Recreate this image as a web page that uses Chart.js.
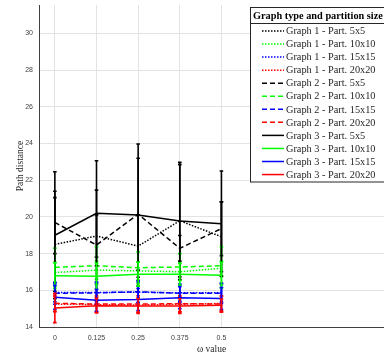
<!DOCTYPE html>
<html>
<head>
<meta charset="utf-8">
<script src="https://cdn.jsdelivr.net/npm/chart.js@4/dist/chart.umd.min.js"></script>
<style>
  html, body { margin: 0; padding: 0; background: #fff; }
  canvas { display: block; }
</style>
</head>
<body>
<canvas id="chart" width="384" height="354"></canvas>
<script>
const xValues = [0, 0.125, 0.25, 0.375, 0.5];
const xTickLabels = ["0", "0.125", "0.25", "0.375", "0.5"];
const yTicks = [14, 16, 18, 20, 22, 24, 26, 28, 30];

const graphNames = ["Graph 1", "Graph 2", "Graph 3"];
const partitions = ["5x5", "10x10", "15x15", "20x20"];

// mean path distance, one array per graph / partition
const g1p5 = [18.5, 18.96, 18.41, 19.79, 18.92];
const g1p10 = [16.97, 17.1, 17.06, 17.01, 17.2];
const g1p15 = [15.88, 15.88, 15.9, 15.86, 15.86];
const g1p20 = [15.25, 15.22, 15.2, 15.24, 15.28];
const g2p5 = [19.7, 18.47, 20.15, 18.29, 19.36];
const g2p10 = [17.25, 17.34, 17.23, 17.27, 17.34];
const g2p15 = [15.84, 15.86, 15.92, 15.84, 15.84];
const g2p20 = [15.29, 15.25, 15.25, 15.27, 15.25];
const g3p5 = [19.0, 20.2, 20.1, 19.78, 19.63];
const g3p10 = [16.8, 16.77, 16.88, 16.88, 16.82];
const g3p15 = [15.62, 15.46, 15.5, 15.6, 15.55];
const g3p20 = [15.04, 15.16, 15.14, 15.14, 15.18];

// error bar half-lengths
const g1p5Err = [2.55, 1.15, 1.7, 3.06, 1.9];
const g1p10Err = [0.55, 0.5, 0.5, 0.45, 0.4];
const g1p15Err = [0.5, 0.5, 0.55, 0.45, 0.5];
const g1p20Err = [0.4, 0.4, 0.4, 0.4, 0.4];
const g2p5Err = [1.7, 2.99, 3.05, 0.7, 1.47];
const g2p10Err = [1.05, 1.04, 0.87, 0.73, 1.04];
const g2p15Err = [0.6, 0.6, 0.6, 0.5, 0.55];
const g2p20Err = [0.45, 0.45, 0.45, 0.45, 0.45];
const g3p5Err = [3.46, 2.86, 3.87, 3.19, 2.87];
const g3p10Err = [0.7, 0.7, 0.65, 0.6, 0.7];
const g3p15Err = [0.65, 0.6, 0.6, 0.6, 0.6];
const g3p20Err = [0.8, 0.4, 0.4, 0.4, 0.35];

const means = [g1p5, g1p10, g1p15, g1p20, g2p5, g2p10, g2p15, g2p20, g3p5, g3p10, g3p15, g3p20];
const errs = [g1p5Err, g1p10Err, g1p15Err, g1p20Err, g2p5Err, g2p10Err, g2p15Err, g2p20Err, g3p5Err, g3p10Err, g3p15Err, g3p20Err];

const partColors = ["#000000", "#00ff00", "#0000ff", "#ff0000"];
const graphDash = [[1.5, 1.5], [5, 3], []];

const datasets = means.map((vals, i) => {
  const g = Math.floor(i / 4), p = i % 4;
  return {
    label: graphNames[g] + " - Part. " + partitions[p],
    data: xValues.map((x, k) => ({ x: x, y: vals[k] })),
    errors: errs[i],
    borderColor: partColors[p],
    borderDash: graphDash[g],
    borderWidth: 1.5,
    pointRadius: 0,
    fill: false,
    tension: 0,
    order: means.length - i
  };
});

const errorBars = {
  id: "errorBars",
  beforeDatasetDraw(chart, args) {
    const ds = chart.data.datasets[args.index];
    const ctx = chart.ctx;
    const xs = chart.scales.x, ys = chart.scales.y;
    ctx.save();
    ctx.strokeStyle = ds.borderColor;
    ctx.lineWidth = 1.6;
    ctx.setLineDash([]);
    ds.data.forEach((pt, k) => {
      const e = ds.errors[k];
      const px = xs.getPixelForValue(pt.x);
      const top = ys.getPixelForValue(pt.y + e);
      const bot = ys.getPixelForValue(pt.y - e);
      ctx.beginPath();
      ctx.moveTo(px, top); ctx.lineTo(px, bot);
      ctx.moveTo(px - 1.8, top); ctx.lineTo(px + 1.8, top);
      ctx.moveTo(px - 1.8, bot); ctx.lineTo(px + 1.8, bot);
      ctx.stroke();
    });
    ctx.restore();
  }
};

const boxLegend = {
  id: "boxLegend",
  afterDraw(chart) {
    const ctx = chart.ctx;
    const left = 250.5, top = 7.5, right = 400, bottom = 182;
    ctx.save();
    ctx.fillStyle = "#ffffff";
    ctx.fillRect(left, top, right - left, bottom - top);
    ctx.strokeStyle = "#262626";
    ctx.lineWidth = 1;
    ctx.strokeRect(left, top, right - left, bottom - top);
    ctx.beginPath();
    ctx.moveTo(left, 23.5); ctx.lineTo(right, 23.5);
    ctx.stroke();
    ctx.fillStyle = "#000000";
    ctx.textBaseline = "middle";
    ctx.font = "bold 10.3px 'Liberation Serif'";
    ctx.fillText("Graph type and partition size", 253, 16);
    ctx.font = "10.3px 'Liberation Serif'";
    chart.data.datasets.forEach((ds, i) => {
      const y = 31 + i * 13.05;
      ctx.strokeStyle = ds.borderColor;
      ctx.lineWidth = 1.5;
      ctx.setLineDash(ds.borderDash);
      ctx.beginPath();
      ctx.moveTo(262, y); ctx.lineTo(284, y);
      ctx.stroke();
      ctx.setLineDash([]);
      ctx.fillStyle = "#262626";
      ctx.fillText(ds.label, 286, y + 0.5);
    });
    ctx.restore();
  }
};

new Chart(document.getElementById("chart"), {
  type: "line",
  data: { datasets: datasets },
  options: {
    responsive: false,
    animation: false,
    layout: { padding: { top: 5, right: 0, left: 0, bottom: 0 } },
    plugins: { legend: { display: false }, tooltip: { enabled: false } },
    scales: {
      x: {
        type: "linear",
        min: -0.0476,
        max: 0.988,
        afterBuildTicks: (s) => { s.ticks = xValues.map(v => ({ value: v })); },
        afterFit: (s) => { s.height = 27; s.paddingLeft = 0; s.paddingRight = 0; },
        ticks: {
          callback: (v) => xTickLabels[xValues.indexOf(v)],
          font: { family: "'Liberation Sans'", size: 7 },
          color: "#404040",
          padding: 7,
          maxRotation: 0
        },
        grid: { color: "#e3e3e3", drawTicks: false },
        border: { color: "#404040", width: 1 },
        title: {
          display: true,
          text: "\u03c9 value",
          font: { family: "'Liberation Serif'", size: 9.5 },
          color: "#262626",
          padding: { top: 0, bottom: -1 }
        }
      },
      y: {
        min: 14,
        max: 31.55,
        afterBuildTicks: (s) => { s.ticks = yTicks.map(v => ({ value: v })); },
        afterFit: (s) => { s.width = 39; s.paddingTop = 0; s.paddingBottom = 0; },
        ticks: {
          font: { family: "'Liberation Sans'", size: 7 },
          color: "#404040",
          padding: 6
        },
        grid: { color: "#e3e3e3", drawTicks: false },
        border: { color: "#404040", width: 1 },
        title: {
          display: true,
          text: "Path distance",
          font: { family: "'Liberation Serif'", size: 9.5 },
          color: "#262626",
          padding: { top: 15, bottom: 0 }
        }
      }
    }
  },
  plugins: [errorBars, boxLegend]
});
</script>
</body>
</html>
